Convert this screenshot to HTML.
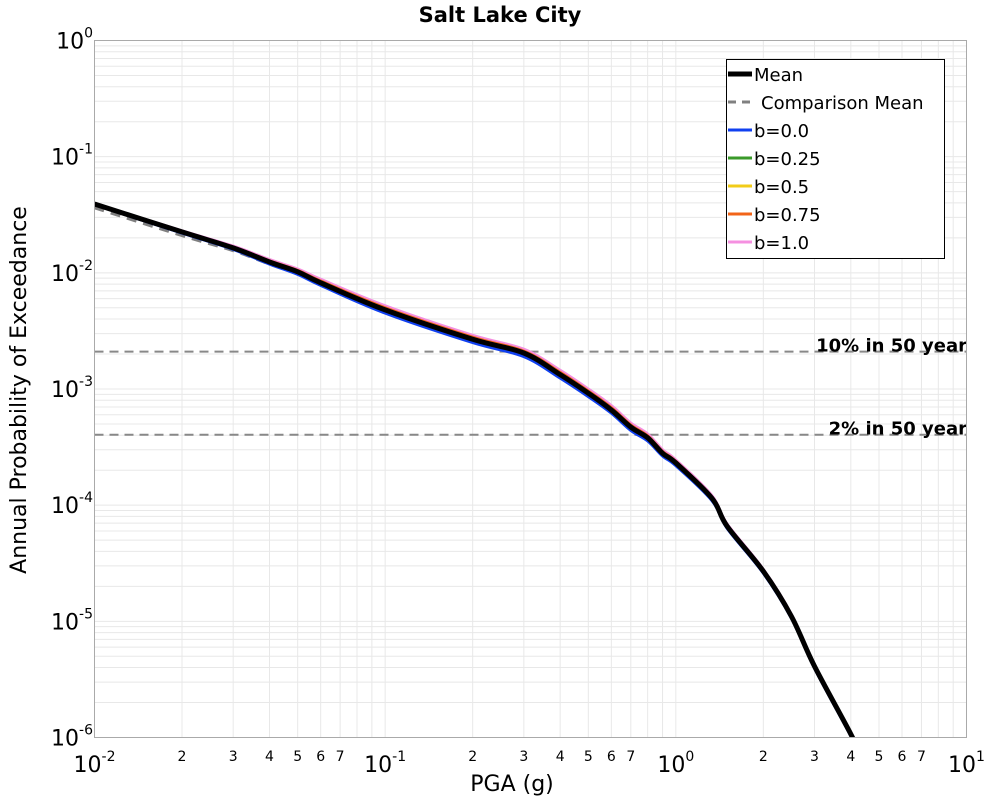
<!DOCTYPE html>
<html><head><meta charset="utf-8"><style>
body{margin:0;background:#fff}
svg{display:block;font-family:"DejaVu Sans","Liberation Sans",sans-serif}
</style></head><body>
<svg id="chart" width="1000" height="800" xmlns="http://www.w3.org/2000/svg">
<text x="500" y="22" text-anchor="middle" font-size="21" font-weight="bold">Salt Lake City</text>
<g id="grid"></g>
<g id="lines"></g>
<rect x="94.5" y="40.5" width="872" height="697" fill="none" stroke="#aaa"/>
<g id="axes"></g>
<text x="512" y="791" text-anchor="middle" font-size="22">PGA (g)</text>
<text transform="translate(26,390) rotate(-90)" text-anchor="middle" font-size="22">Annual Probability of Exceedance</text>
<g id="legend"></g>
</svg>
<script>
const pga=[0.01,0.02,0.03,0.04,0.05,0.06,0.1,0.2,0.3,0.4,0.5,0.6,0.7,0.8,0.9,1.0,1.33,1.5,2,2.5,3,4,4.2];
const meanVals=[0.0391,0.0225,0.0164,0.0124,0.0102,0.0082,0.0048,0.00268,0.00204,0.00133,0.00092,0.00066,0.00047,0.00038,0.00028,0.000231,0.000115,6.6e-5,2.7e-5,1.1e-5,4.1e-6,1.07e-6,8e-7];
const compVals=[0.0363,0.0209,0.0155,0.0119,0.0098,0.0081,0.0048,0.00268,0.00204,0.00133,0.00092,0.00066,0.00047,0.00038,0.00028,0.000231,0.000115,6.6e-5,2.7e-5,1.1e-5,4.1e-6,1.07e-6,8e-7];
const b00=[0.0386,0.0220,0.0159,0.0119,0.0097,0.0078,0.0045,0.00251,0.00190,0.00124,0.00086,0.00062,0.00044,0.000357,0.000265,0.000219,0.000110,6.35e-5,2.6e-5,1.06e-5,3.95e-6,1.03e-6,7.7e-7];
const b025=[0.0389,0.0223,0.0162,0.0122,0.0100,0.0080,0.0047,0.00262,0.00199,0.0013,0.0009,0.00065,0.00046,0.000372,0.000275,0.000227,0.000113,6.5e-5,2.66e-5,1.08e-5,4.05e-6,1.05e-6,7.9e-7];
const b05=[0.0391,0.0225,0.0164,0.0124,0.0102,0.0082,0.0048,0.00268,0.00204,0.00133,0.00092,0.00066,0.00047,0.00038,0.00028,0.000231,0.000115,6.6e-5,2.7e-5,1.1e-5,4.1e-6,1.07e-6,8e-7];
const b075=[0.0393,0.0227,0.0167,0.0127,0.0105,0.0085,0.0050,0.00279,0.00212,0.00139,0.00096,0.00069,0.00049,0.000395,0.00029,0.000238,0.000118,6.75e-5,2.75e-5,1.12e-5,4.15e-6,1.08e-6,8.1e-7];
const b10=[0.0395,0.0230,0.0170,0.0130,0.0108,0.0088,0.0052,0.0029,0.0022,0.00145,0.001,0.00072,0.00051,0.00041,0.0003,0.000245,0.000121,6.9e-5,2.8e-5,1.14e-5,4.2e-6,1.1e-6,8.2e-7];
const refLevels=[0.0021,0.000404];
const refLabels=["10% in 50 year","2% in 50 year"];
const xDecades=[-2,-1,0,1];
const yDecades=[0,-1,-2,-3,-4,-5,-6];

const NS="http://www.w3.org/2000/svg";
const L=94.5,R=966.5,T=40.5,B=737.5;
const X=v=>L+(Math.log10(v)+2)/3*(R-L);
const Y=v=>T+(-Math.log10(v))/6*(B-T);
function mk(tag,attrs,parent){const e=document.createElementNS(NS,tag);for(const k in attrs)e.setAttribute(k,attrs[k]);parent.appendChild(e);return e;}
const grid=document.getElementById('grid'),axes=document.getElementById('axes'),lines=document.getElementById('lines'),legend=document.getElementById('legend');
for(let d=-2;d<1;d++)for(let m=1;m<10;m++){const x=X(m*Math.pow(10,d));
 const g=mk('line',{x1:x,x2:x,y1:T,y2:B,stroke:'#e8e8e8','stroke-width':1},grid);
 
 
 if(m>=2&&m<=7){const t=mk('text',{x:x,y:761,'text-anchor':'middle','font-size':14},axes);t.textContent=m;
  
  }}
for(let d=-6;d<0;d++)for(let m=1;m<10;m++){const y=Y(m*Math.pow(10,d));
 const g=mk('line',{x1:L,x2:R,y1:y,y2:y,stroke:'#e8e8e8','stroke-width':1},grid);
 
 }
xDecades.forEach(d=>{const t=mk('text',{x:X(Math.pow(10,d)),y:772,'text-anchor':'middle','font-size':22},axes);
 t.innerHTML='10<tspan dy="-11" font-size="14">'+d+'</tspan>';
 
 });
yDecades.forEach(d=>{const t=mk('text',{x:93,y:Y(Math.pow(10,d))+8,'text-anchor':'end','font-size':22},axes);
 t.innerHTML='10<tspan dy="-11" font-size="14">'+d+'</tspan>';
 
 });
refLevels.forEach((v,i)=>{const y=Y(v);
 const l=mk('line',{x1:L,x2:R,y1:y,y2:y,stroke:'#888','stroke-width':2,'stroke-dasharray':'9,6'},lines);
 
 
 const t=mk('text',{x:967,y:y-0,'text-anchor':'end','font-size':18,'font-weight':'bold'},lines);t.textContent=refLabels[i];
 
 });
const series=[
 {n:'Comparison Mean',v:compVals,c:'#808080',w:3,dash:'10,7'},
 {n:'b=1.0',v:b10,c:'#f590e0',w:3},
 {n:'b=0.75',v:b075,c:'#f26418',w:3},
 {n:'b=0.5',v:b05,c:'#f2cc18',w:3},
 {n:'b=0.25',v:b025,c:'#3a9a2a',w:3},
 {n:'b=0.0',v:b00,c:'#1040f0',w:3},
 {n:'Mean',v:meanVals,c:'#000',w:5}];
const clip=mk('clipPath',{id:'pc'},document.getElementById('chart'));
mk('rect',{x:L,y:T,width:R-L,height:B-T},clip);
function smooth(pts){let d='M'+pts[0][0].toFixed(1)+','+pts[0][1].toFixed(1);
 for(let i=0;i<pts.length-1;i++){const p0=pts[Math.max(0,i-1)],p1=pts[i],p2=pts[i+1],p3=pts[Math.min(pts.length-1,i+2)];
  const c1=[p1[0]+(p2[0]-p0[0])/6,p1[1]+(p2[1]-p0[1])/6],c2=[p2[0]-(p3[0]-p1[0])/6,p2[1]-(p3[1]-p1[1])/6];
  d+='C'+c1.map(v=>v.toFixed(1)).join(',')+' '+c2.map(v=>v.toFixed(1)).join(',')+' '+p2.map(v=>v.toFixed(1)).join(',');}
 return d;}
series.forEach(s=>{const pts=s.v.map((v,i)=>[X(pga[i]),Y(v)]);
 const p=mk('path',{d:smooth(pts),fill:'none',stroke:s.c,'stroke-width':s.w,'stroke-linejoin':'round','clip-path':'url(#pc)'},lines);
 if(s.dash)p.setAttribute('stroke-dasharray',s.dash);
 
 });
mk('rect',{x:726.5,y:59.5,width:218,height:199,fill:'#fff',stroke:'#000','stroke-width':1},legend);
const order=[6,0,5,4,3,2,1];
order.forEach((k,i)=>{const s=series[k],y=74+i*28;
 const l=mk('line',{x1:728,x2:752,y1:y,y2:y,stroke:s.c,'stroke-width':s.w},legend);
 if(s.dash)l.setAttribute('stroke-dasharray','8,6');
 
 
 const t=mk('text',{x:k==0?761:754,y:y+7,'font-size':18},legend);
 t.textContent=s.n;
 
 });
</script>
</body></html>
